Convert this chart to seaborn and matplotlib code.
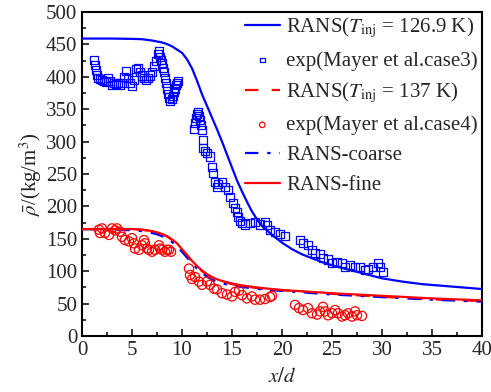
import numpy as np
import pandas as pd
import matplotlib
matplotlib.use("Agg")
import matplotlib.pyplot as plt
import seaborn as sns
from matplotlib.ticker import MultipleLocator

# ---------------- data ----------------
rans1269_x = [0, 3, 5, 6, 7, 7.5, 8, 8.5, 9, 9.5, 10, 10.5, 11, 11.5, 12, 12.5, 13, 13.5, 14, 14.5,
              15, 15.5, 16, 16.5, 17, 17.5, 18, 18.5, 19, 20, 21, 22, 23, 24, 25, 26, 27, 28, 29,
              30, 32, 34, 36, 38, 40]
rans1269_y = [459, 459, 458.5, 458, 456, 454.5, 453, 450.5, 447, 442, 437, 427, 413, 394, 373, 355,
              337, 319, 300, 280, 260, 240, 223, 207, 192, 180, 170, 163, 156, 144, 134, 126, 120,
              114, 109, 105, 101, 97, 93, 89, 84, 80, 77.5, 75, 72.5]

rans137_x = [0, 5, 6, 7, 7.5, 8, 8.5, 9, 9.5, 10, 10.5, 11, 11.5, 12, 12.5, 13, 13.5, 14, 15, 16,
             18, 20, 25, 30, 35, 40]
rans137_y = [165, 165, 164, 162, 160, 157, 153.5, 148.5, 142, 133, 124, 115, 107, 100, 94.5, 90,
             86.5, 84, 80, 77, 73, 70.5, 65, 60.5, 56.5, 54]

coarse_x = [0, 4, 6, 7, 7.5, 8, 8.5, 9, 9.5, 10, 10.5, 11, 11.5, 12, 12.5, 13, 14, 15, 16, 18, 20,
            25, 30, 35, 40]
coarse_y = [165, 164, 162, 159, 157, 154, 150, 145, 138, 130, 121, 112, 104, 97, 91.5, 87, 81, 78,
            75.5, 72, 69.5, 64, 60, 56, 53]

fine_x = [0, 5, 6, 7, 7.5, 8, 8.5, 9, 9.5, 10, 10.5, 11, 11.5, 12, 12.5, 13, 13.5, 14, 15, 16, 17,
          18, 20, 22, 25, 30, 35, 40]
fine_y = [165, 165, 164, 162, 160, 157.5, 154, 149, 143, 134, 125, 116, 108, 101, 95.5, 91, 87.5,
          85, 81, 78, 76, 74, 71, 69, 66, 62, 58, 55]

exp3_x = [1.2, 1.3, 1.4, 1.5, 1.6, 1.8, 2.0, 2.2, 2.4, 2.6, 2.8, 3.0, 3.2, 3.4, 3.6, 3.8, 4.0, 4.2,
          4.4, 4.6, 4.8, 5.0, 5.2, 5.4, 5.6, 5.8, 6.0, 6.2, 6.4, 6.6, 6.8, 7.0, 7.2, 7.4, 7.6, 7.7,
          7.8, 7.9, 8.0, 8.1, 8.2, 8.3, 8.4, 8.5, 8.6, 8.7, 8.8, 9.0, 9.1, 9.2, 9.3, 9.4, 9.5, 9.6,
          11.2, 11.3, 11.4, 11.5, 11.6, 11.7, 11.8, 11.9, 12.0, 12.1, 12.1, 12.3, 12.5, 12.8, 13.0,
          13.1, 13.3, 13.5, 13.6, 14.0, 14.3, 14.6, 14.8, 15.1, 15.3, 15.5, 15.6, 15.8, 16.0, 16.3,
          16.8, 17.3, 17.8, 18.3, 18.5, 18.8, 19.3, 19.8, 20.3,
          21.8, 22.1, 22.6, 23.0, 23.3, 23.8, 24.1, 24.6, 25.0, 25.5, 26.0, 26.3, 26.8, 27.3, 27.8,
          28.3, 28.6, 29.1, 29.6, 29.8, 30.1]
exp3_y = [426, 418, 410, 403, 398, 396, 395, 393, 392, 398, 393, 388, 390, 389, 390, 388, 391, 400,
          409, 398, 390, 386, 395, 412, 414, 408, 402, 398, 395, 398, 402, 408, 416, 424, 435, 439,
          431, 426, 421, 414, 408, 398, 390, 382, 374, 368, 362, 366, 370, 376, 382, 387, 390, 393,
          320, 328, 336, 342, 345, 340, 333, 325, 318, 303, 290, 286, 282, 277, 261,
          251, 238, 230, 235, 238, 230, 225, 215, 205, 198, 192, 184, 178, 174, 172,
          174, 176, 172, 176, 171, 164, 161, 158, 154,
          148, 143, 141, 133, 128, 126, 120, 118, 112, 114, 112, 107, 109, 107, 107,
          102, 104, 107, 112, 107, 99]

exp4_x = [1.7, 1.8, 2.0, 2.3, 2.7, 3.0, 3.3, 3.5, 3.8, 4.0, 4.3, 4.7, 5.0, 5.2, 5.3, 5.7, 6.0, 6.2,
          6.3, 6.5, 6.7, 7.0, 7.3, 7.7, 7.8, 8.0, 8.3, 8.5, 8.7, 8.9,
          10.7, 10.8, 11.0, 11.3, 11.7, 12.0, 12.5, 12.8, 13.2, 13.5, 14.0, 14.5, 15.0, 15.3, 15.7,
          16.0, 16.5, 17.0, 17.3, 17.8, 18.3, 18.8, 19.0,
          21.3, 21.7, 22.1, 22.6, 23.0, 23.5, 23.8, 24.1, 24.3, 24.6, 25.0, 25.3, 25.6, 26.0, 26.3,
          26.6, 27.0, 27.3, 27.5, 28.0]
exp4_y = [164, 159, 166, 159, 156, 166, 163, 166, 161, 153, 148, 146, 151, 143, 135, 133, 140, 148,
          143, 135, 133, 130, 133, 140, 135, 133, 130, 133, 133, 130,
          104, 94, 88, 91, 84, 79, 84, 79, 73, 72, 66, 64, 61, 68, 70,
          63, 58, 61, 56, 56, 57, 60, 62,
          48, 43, 40, 43, 35, 33, 38, 45, 38, 32, 35, 40, 35, 30, 32,
          35, 30, 38, 32, 31]

labels = [r"RANS($T_{\rm inj}$ = 126.9 K)", "exp(Mayer et al.case3)",
          r"RANS($T_{\rm inj}$ = 137 K)", "exp(Mayer et al.case4)",
          "RANS-coarse", "RANS-fine"]

# ---------------- style ----------------
sns.set_style("ticks")
plt.rcParams["font.family"] = ["Liberation Serif", "DejaVu Serif"]
plt.rcParams["mathtext.fontset"] = "stix"
plt.rcParams["font.size"] = 15

fig = plt.figure(figsize=(4.91, 3.92), dpi=100)
ax = fig.add_axes([0.167, 0.1429, 0.8147, 0.8265])

blue = "#0000FF"
red = "#FF0000"
lw = 1.6

sns.lineplot(x=rans1269_x, y=rans1269_y, ax=ax, color=blue, lw=lw, label=labels[0], zorder=3)
sns.scatterplot(x=exp3_x, y=exp3_y, ax=ax, marker="s", s=34, facecolor="none",
                edgecolor=blue, linewidth=0.9, label=labels[1], zorder=4)
sns.lineplot(x=rans137_x, y=rans137_y, ax=ax, color=red, lw=lw, label=labels[2], zorder=3)
ax.lines[-1].set_dashes([6, 6])
sns.scatterplot(x=exp4_x, y=exp4_y, ax=ax, marker="o", s=44, facecolor="none",
                edgecolor=red, linewidth=0.9, label=labels[3], zorder=4)
sns.lineplot(x=coarse_x, y=coarse_y, ax=ax, color=blue, lw=lw, label=labels[4], zorder=3)
ax.lines[-1].set_dashes([6, 4, 1.5, 4])
sns.lineplot(x=fine_x, y=fine_y, ax=ax, color=red, lw=lw, label=labels[5], zorder=3)

ax.set_xlim(0, 40)
ax.set_ylim(0, 500)
ax.xaxis.set_major_locator(MultipleLocator(5))
ax.xaxis.set_minor_locator(MultipleLocator(2.5))
ax.yaxis.set_major_locator(MultipleLocator(50))
ax.yaxis.set_minor_locator(MultipleLocator(25))
ax.tick_params(which="both", direction="in", top=False, right=False, labelsize=15, width=1.3)
ax.tick_params(which="major", length=5)
ax.tick_params(which="minor", length=3)
for sp in ax.spines.values():
    sp.set_visible(True)
    sp.set_linewidth(1.5)
    sp.set_color("black")

ax.set_xlabel(r"$x/d$", fontsize=15, labelpad=6)
ax.set_ylabel(r"$\bar{\rho}$/(kg/m$^3$)", fontsize=15, labelpad=1)

handles, labs = ax.get_legend_handles_labels()
leg = ax.legend(handles, labs, loc="upper right", frameon=False, fontsize=15,
                handlelength=1.7, handletextpad=0.3, labelspacing=0.5,
                borderaxespad=0.1, borderpad=0.1, markerscale=0.6)

fig.savefig("out.png", dpi=100)
